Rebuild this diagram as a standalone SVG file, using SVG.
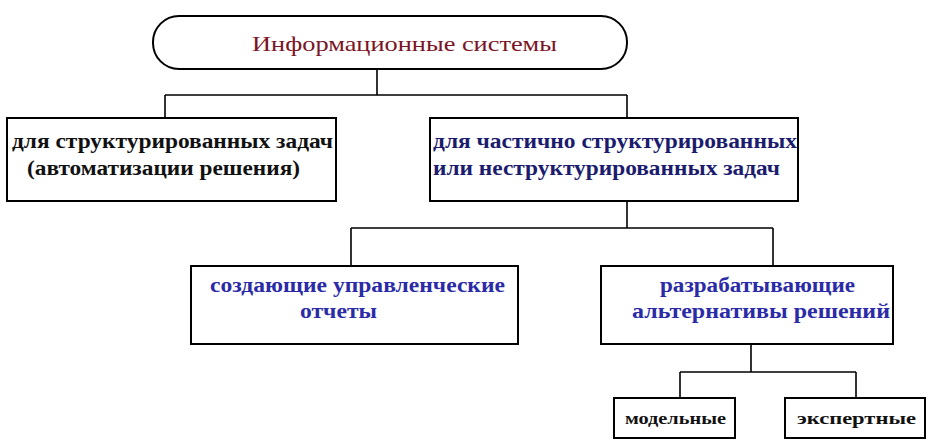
<svg xmlns="http://www.w3.org/2000/svg" width="940" height="442" viewBox="0 0 940 442">
<style>
.b{fill:#fff;stroke:#000;stroke-width:2}
.c{fill:none;stroke:#000;stroke-width:1.6}
text{font-family:"Liberation Serif","DejaVu Serif",serif;font-weight:bold;font-size:20px}
.k{fill:#111}.n{fill:#1c1c6e}.u{fill:#2b2ba8}
</style>
<rect width="940" height="442" fill="#fff"/>
<g id="connectors">
<path class="c" d="M377 69V95M165 95H627M165 95V118M627 95V118"/>
<path class="c" d="M627 201V228M351 228H773M351 228V266M773 228V266"/>
<path class="c" d="M751 344V372M680 372H856M680 372V398M856 372V398"/>
</g>
<g id="root"><rect class="b" x="153" y="16" width="474" height="53" rx="26"/>
<text x="252" y="51" textLength="305" lengthAdjust="spacingAndGlyphs" style="font-weight:normal;font-size:21px" fill="#7a1426">Информационные системы</text></g>
<g id="struct"><rect class="b" x="7" y="118" width="329" height="83"/>
<text class="k" x="12" y="148" textLength="321" lengthAdjust="spacingAndGlyphs">для структурированных задач</text><text class="k" x="27" y="175" textLength="273" lengthAdjust="spacingAndGlyphs">(автоматизации решения)</text></g>
<g id="semi"><rect class="b" x="430" y="118" width="368" height="83"/>
<text class="n" x="433" y="148" textLength="364" lengthAdjust="spacingAndGlyphs">для частично структурированных</text><text class="n" x="433" y="175" textLength="347" lengthAdjust="spacingAndGlyphs">или неструктурированных задач</text></g>
<g id="reports"><rect class="b" x="191" y="266" width="327" height="78"/>
<text class="u" x="210" y="292" textLength="295" lengthAdjust="spacingAndGlyphs">создающие управленческие</text><text class="u" x="300" y="318" textLength="77" lengthAdjust="spacingAndGlyphs">отчеты</text></g>
<g id="alt"><rect class="b" x="601" y="266" width="292" height="78"/>
<text class="u" x="660" y="292" textLength="195" lengthAdjust="spacingAndGlyphs">разрабатывающие</text><text class="u" x="632" y="318" textLength="258" lengthAdjust="spacingAndGlyphs">альтернативы решений</text></g>
<g id="model"><rect class="b" x="614" y="398" width="121" height="40"/>
<text class="k" x="625" y="424" textLength="101" lengthAdjust="spacingAndGlyphs" style="font-size:17px">модельные</text></g>
<g id="expert"><rect class="b" x="785" y="398" width="140" height="40"/>
<text class="k" x="797" y="424" textLength="119" lengthAdjust="spacingAndGlyphs" style="font-size:17px">экспертные</text></g>
</svg>
